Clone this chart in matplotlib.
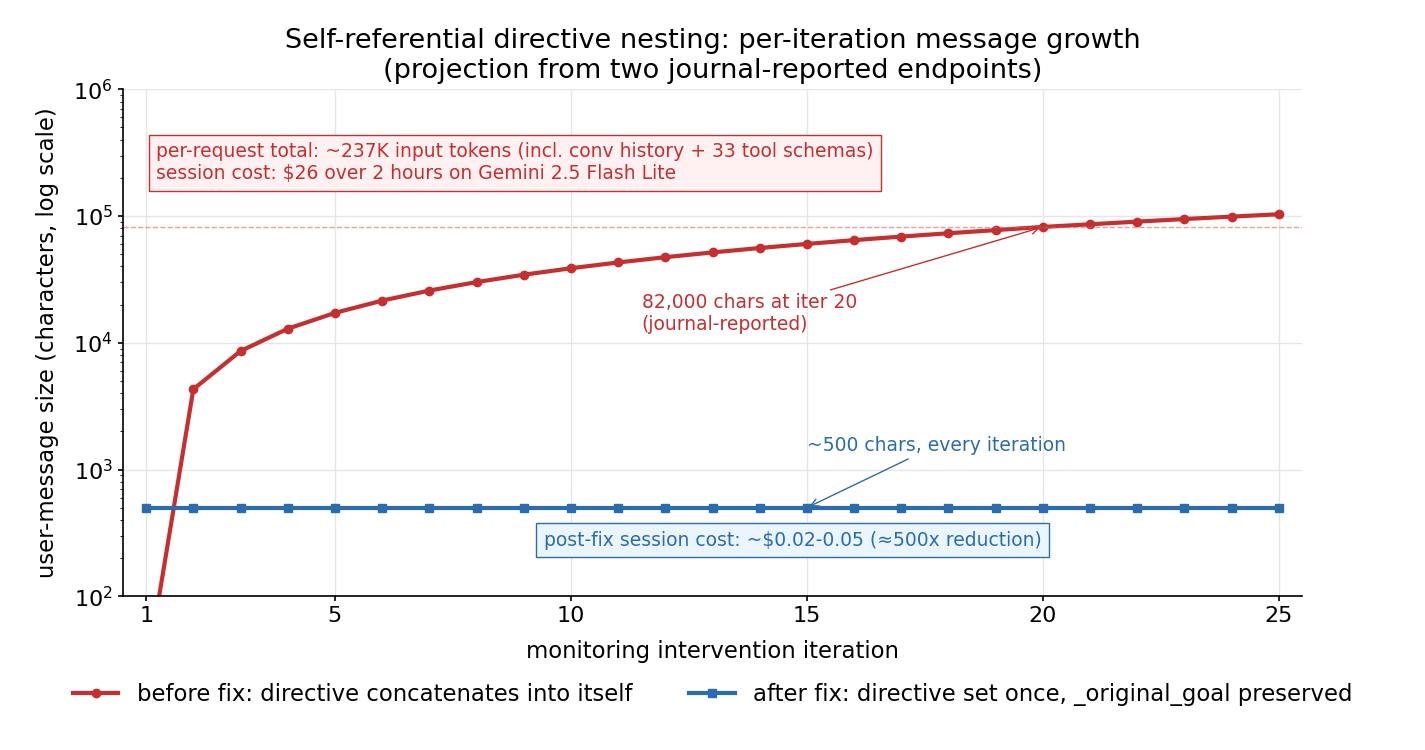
import matplotlib
matplotlib.use("Agg")
import matplotlib.pyplot as plt

# data
iterations = list(range(1, 26))
before_fix = [24, 4300, 8600, 12900, 17200, 21500, 25800, 30100, 34400, 38700,
              43000, 47300, 51600, 55900, 60200, 64500, 68800, 73100, 77400, 82000,
              86000, 90300, 94600, 98900, 103200]
after_fix = [500] * 25
reported_chars = 82000

RED = "#c62f2f"
BLUE = "#2b6cb0"

fig, ax = plt.subplots(figsize=(14.25, 7.5), dpi=100)
fig.subplots_adjust(left=0.086, right=0.914, top=0.881, bottom=0.205)

ax.plot(iterations, before_fix, color=RED, lw=3, marker="o", ms=6,
        label="before fix: directive concatenates into itself")
ax.plot(iterations, after_fix, color=BLUE, lw=3, marker="s", ms=6,
        label="after fix: directive set once, _original_goal preserved")
ax.axhline(reported_chars, color="#e35a5a", lw=1, ls="--", alpha=0.6)

ax.set_yscale("log")
ax.set_ylim(100, 1e6)
ax.set_xlim(0.5, 25.5)
ax.set_xticks([1, 5, 10, 15, 20, 25])
ax.tick_params(labelsize=16, width=1.2)
ax.grid(True, color="#e6e6e6", lw=1)
ax.set_axisbelow(True)
for s in ("top", "right"):
    ax.spines[s].set_visible(False)
for s in ("left", "bottom"):
    ax.spines[s].set_linewidth(1.2)

ax.set_xlabel("monitoring intervention iteration", fontsize=16.4, labelpad=10)
ax.set_ylabel("user-message size (characters, log scale)", fontsize=16.4, labelpad=10)
ax.set_title("Self-referential directive nesting: per-iteration message growth\n"
             "(projection from two journal-reported endpoints)", fontsize=19.5, pad=8)

ax.annotate("82,000 chars at iter 20\n(journal-reported)",
            xy=(20, reported_chars), xytext=(11.5, 12500),
            fontsize=13.5, color=RED,
            arrowprops=dict(arrowstyle="->", color=RED, lw=1))
ax.annotate("~500 chars, every iteration",
            xy=(15, 500), xytext=(15, 1400),
            fontsize=13.5, color=BLUE,
            arrowprops=dict(arrowstyle="->", color=BLUE, lw=1))

ax.text(1.21, 2.64e5,
        "per-request total: ~237K input tokens (incl. conv history + 33 tool schemas)\n"
        "session cost: $26 over 2 hours on Gemini 2.5 Flash Lite",
        fontsize=13.5, color=RED, va="center",
        bbox=dict(boxstyle="square,pad=0.4", fc="#fff1f1", ec=RED, lw=1))
ax.text(14.7, 276, "post-fix session cost: ~$0.02-0.05 (\u2248500x reduction)",
        fontsize=13.5, color=BLUE, ha="center", va="center",
        bbox=dict(boxstyle="square,pad=0.4", fc="#eaf5fd", ec=BLUE, lw=1))

ax.legend(loc="upper center", bbox_to_anchor=(0.5, -0.13), ncol=2,
          frameon=False, fontsize=16.4, columnspacing=2.5)

fig.savefig("out.png", dpi=100)
